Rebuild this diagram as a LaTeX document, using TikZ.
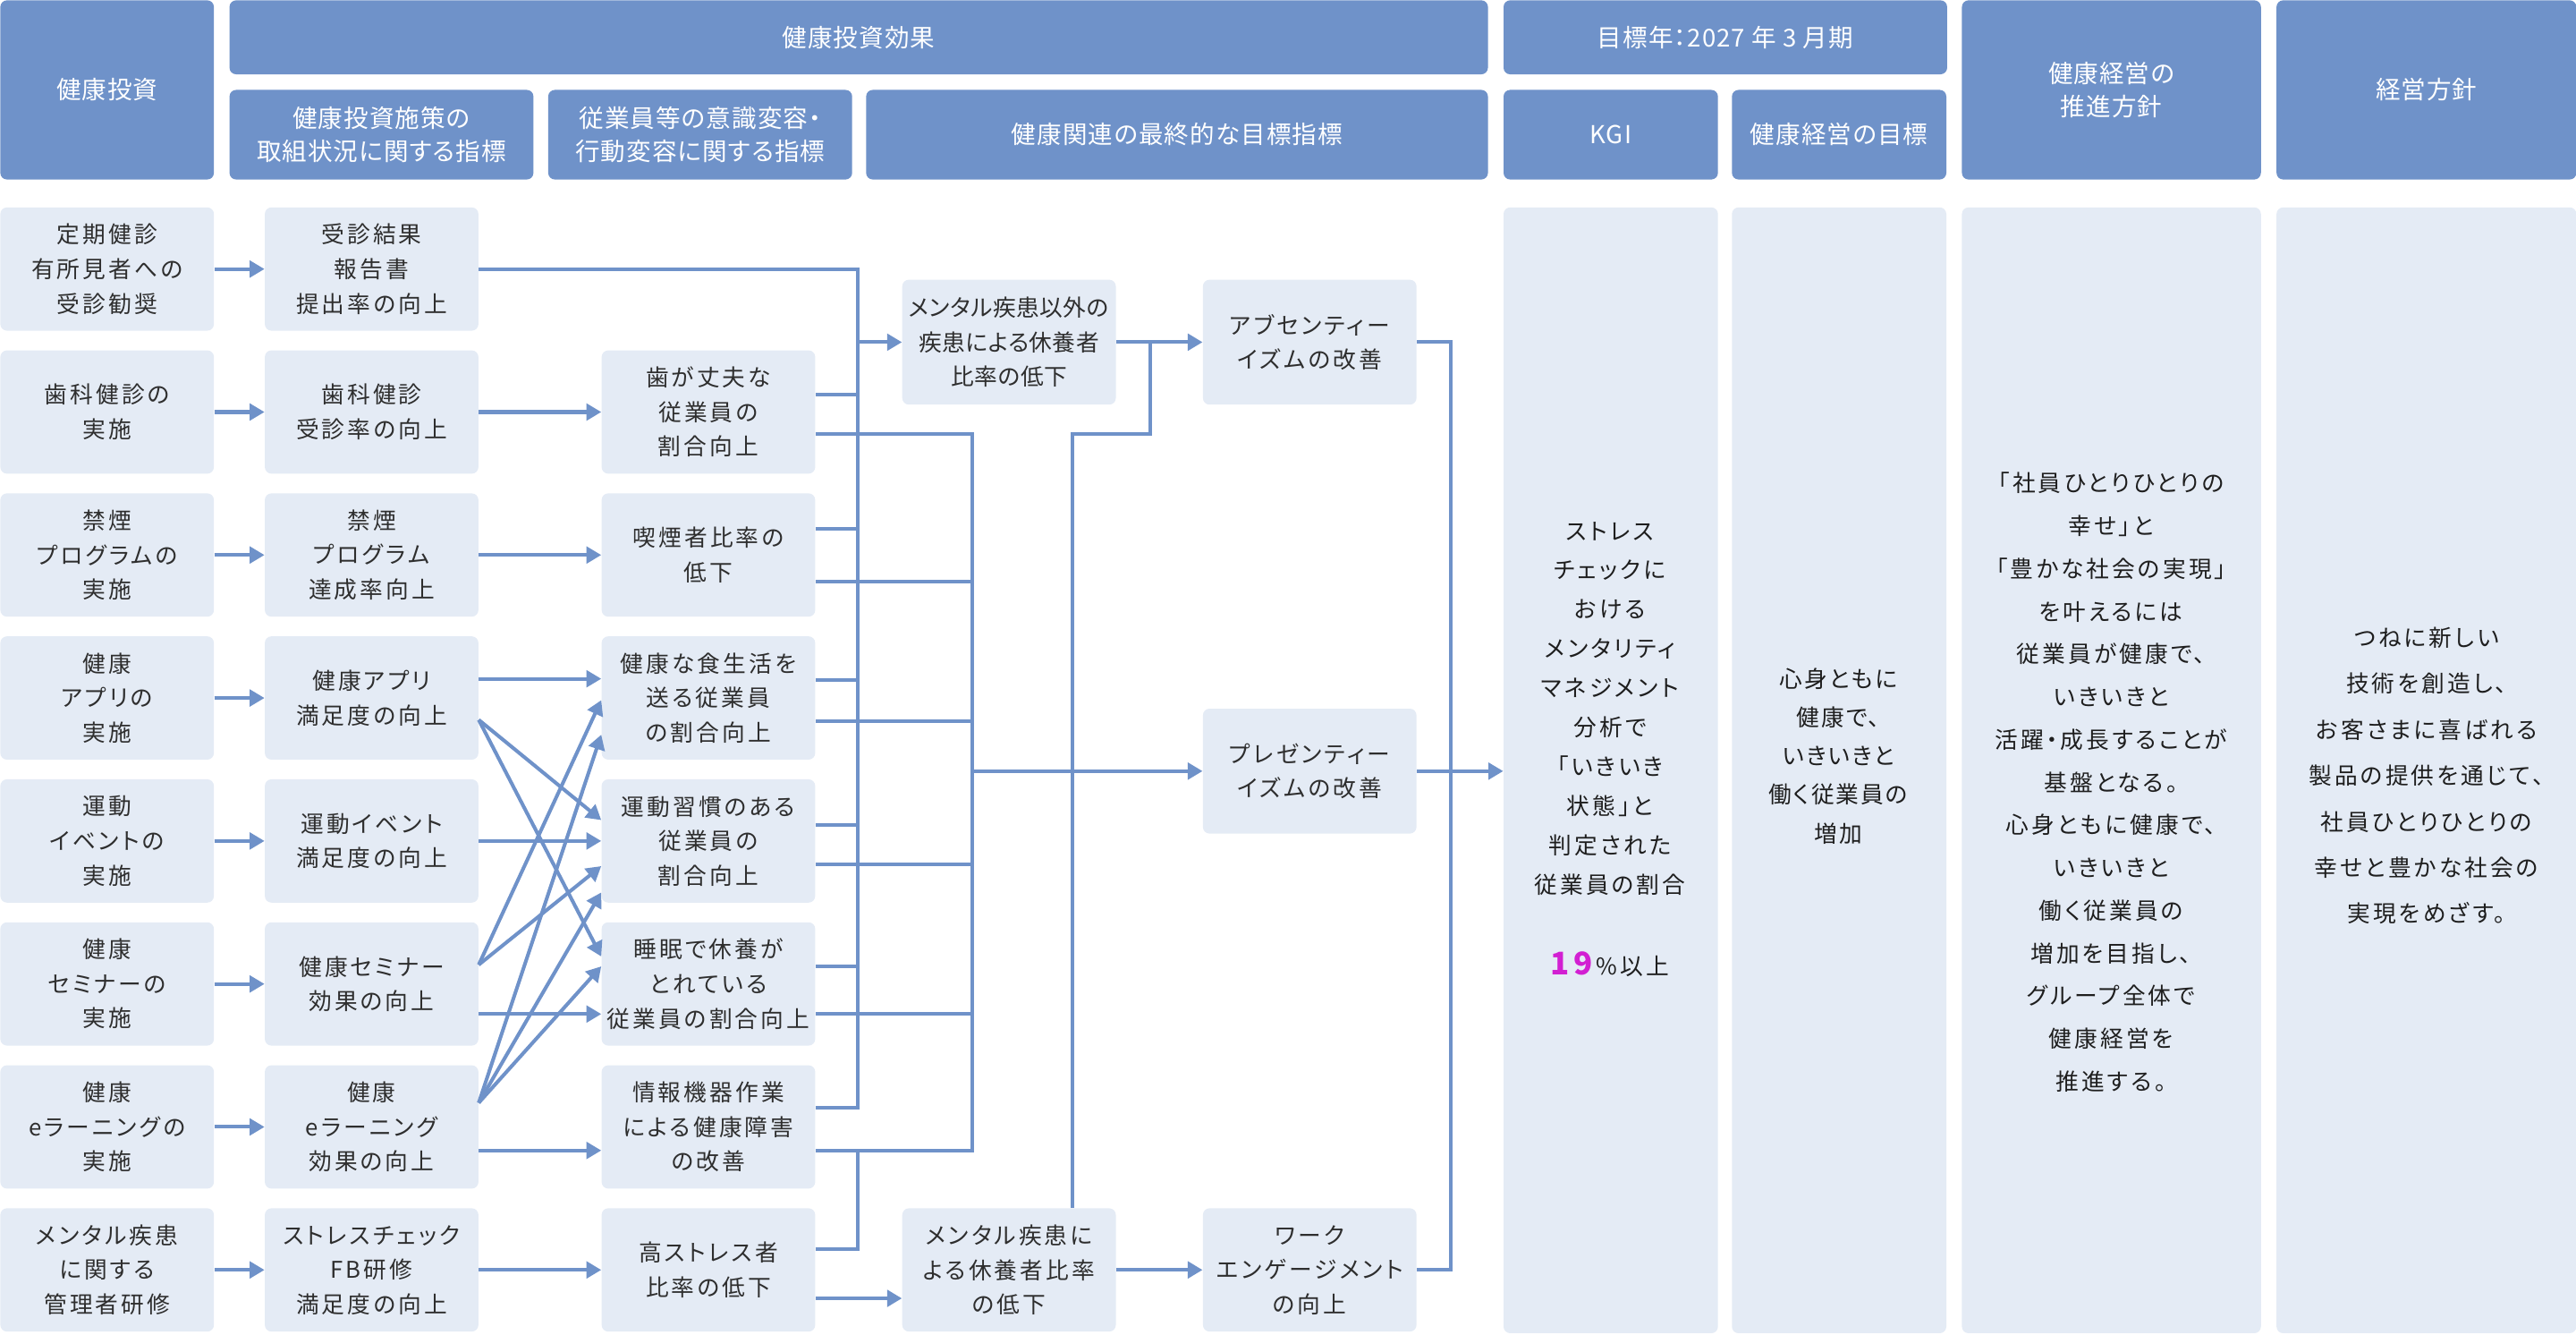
\documentclass[tikz,border=0pt]{standalone}
\usepackage{fontspec}
\setmainfont{Noto Sans CJK JP}[RawFeature=+palt]
\usetikzlibrary{arrows.meta}
\definecolor{hdblue}{HTML}{6F92C9}
\definecolor{bxblue}{HTML}{E4EBF5}
\definecolor{lnblue}{HTML}{6F92C9}
\definecolor{txtc}{HTML}{2E2E2E}
\definecolor{darktxt}{HTML}{1E1E1E}
\definecolor{mag}{HTML}{D21FD2}
\newcommand\fBody{\fontsize{14}{21}\selectfont\addfontfeature{LetterSpace=12}}
\newcommand\fTight{\fontsize{14}{21}\selectfont\addfontfeature{LetterSpace=2}}
\newcommand\fHead{\fontsize{15}{20}\selectfont\addfontfeature{LetterSpace=4}}
\newcommand\fKgi{\fontsize{14}{23.9}\selectfont\addfontfeature{LetterSpace=12}}
\newcommand\fGoal{\fontsize{14}{23.5}\selectfont\addfontfeature{LetterSpace=8}}
\newcommand\fPol{\fontsize{14}{26}\selectfont\addfontfeature{LetterSpace=12}}
\newcommand\fMgt{\fontsize{14}{28}\selectfont\addfontfeature{LetterSpace=12}}
\begin{document}
\begin{tikzpicture}[x=1pt,y=-1pt,
  hd/.style={fill=hdblue,rounded corners=4pt,text=white,font=\fHead,align=center,inner sep=0pt,anchor=north west},
  bx/.style={fill=bxblue,rounded corners=4pt,text=txtc,font=\fBody,align=center,inner sep=0pt,anchor=north west,minimum width=130pt,minimum height=75pt},
  tall/.style={fill=bxblue,rounded corners=4pt,inner sep=0pt,anchor=north west,minimum height=685pt},
  ln/.style={draw=lnblue,line width=2.2pt},
  ar/.style={ln,-{Triangle[length=9pt,width=10pt]}},
  txtn/.style={text=darktxt,align=center,inner sep=0pt}]
\useasboundingbox (0,0) rectangle (1568,812);
% headers
\node[hd,minimum width=130pt,minimum height=109pt] (h0) at (0,0) {健康投資};
\node[hd,minimum width=766pt,minimum height=45pt] (h1) at (139.5,0) {健康投資効果};
\node[hd,minimum width=270pt,minimum height=45pt] (h2) at (915,0) {目標年：2027 年 3 月期};
\node[hd,minimum width=182pt,minimum height=109pt] (h3) at (1194,0) {健康経営の\\推進方針};
\node[hd,minimum width=182.5pt,minimum height=109pt] (h4) at (1385.5,0) {経営方針};
\node[hd,minimum width=185pt,minimum height=54.5pt] (h5) at (139.5,54.5) {健康投資施策の\\取組状況に関する指標};
\node[hd,minimum width=185pt,minimum height=54.5pt] (h6) at (333.5,54.5) {従業員等の意識変容・\\行動変容に関する指標};
\node[hd,minimum width=378.5pt,minimum height=54.5pt] (h7) at (527,54.5) {健康関連の最終的な目標指標};
\node[hd,minimum width=130.5pt,minimum height=54.5pt] (h8) at (915,54.5) {KGI};
\node[hd,minimum width=130.5pt,minimum height=54.5pt] (h9) at (1054,54.5) {健康経営の目標};
% column 1
\node[bx] (a1) at (0,126) {定期健診\\有所見者への\\受診勧奨};
\node[bx] (a2) at (0,213) {歯科健診の\\実施};
\node[bx] (a3) at (0,300) {禁煙\\プログラムの\\実施};
\node[bx] (a4) at (0,387) {健康\\アプリの\\実施};
\node[bx] (a5) at (0,474) {運動\\イベントの\\実施};
\node[bx] (a6) at (0,561) {健康\\セミナーの\\実施};
\node[bx] (a7) at (0,648) {健康\\eラーニングの\\実施};
\node[bx] (a8) at (0,735) {メンタル疾患\\に関する\\管理者研修};
% column 2
\node[bx] (b1) at (161,126) {受診結果\\報告書\\提出率の向上};
\node[bx] (b2) at (161,213) {歯科健診\\受診率の向上};
\node[bx] (b3) at (161,300) {禁煙\\プログラム\\達成率向上};
\node[bx] (b4) at (161,387) {健康アプリ\\満足度の向上};
\node[bx] (b5) at (161,474) {運動イベント\\満足度の向上};
\node[bx] (b6) at (161,561) {健康セミナー\\効果の向上};
\node[bx] (b7) at (161,648) {健康\\eラーニング\\効果の向上};
\node[bx] (b8) at (161,735) {ストレスチェック\\FB研修\\満足度の向上};
% column 3
\node[bx] (c2) at (366,213) {歯が丈夫な\\従業員の\\割合向上};
\node[bx] (c3) at (366,300) {喫煙者比率の\\低下};
\node[bx] (c4) at (366,387) {健康な食生活を\\送る従業員\\の割合向上};
\node[bx] (c5) at (366,474) {運動習慣のある\\従業員の\\割合向上};
\node[bx] (c6) at (366,561) {睡眠で休養が\\とれている\\従業員の割合向上};
\node[bx] (c7) at (366,648) {情報機器作業\\による健康障害\\の改善};
\node[bx] (c8) at (366,735) {高ストレス者\\比率の低下};
% column 4 and 5
\node[bx,minimum height=76pt,font=\fTight] (d1) at (549,170) {メンタル疾患以外の\\疾患による休養者\\比率の低下};
\node[bx] (d2) at (549,735) {メンタル疾患に\\よる休養者比率\\の低下};
\node[bx,minimum height=76pt] (e1) at (732,170) {アブセンティー\\イズムの改善};
\node[bx,minimum height=76pt] (e2) at (732,431) {プレゼンティー\\イズムの改善};
\node[bx] (e3) at (732,735) {ワーク\\エンゲージメント\\の向上};
% tall columns
\node[tall,minimum width=130.5pt] (k) at (915,126) {};
\node[tall,minimum width=130.5pt] (g) at (1054,126) {};
\node[tall,minimum width=182pt] (p) at (1194,126) {};
\node[tall,minimum width=182.5pt] (m) at (1385.5,126) {};
\node[txtn,font=\fKgi] (kt) at (980,456) {ストレス\\チェックに\\おける\\メンタリティ\\マネジメント\\分析で\\「いきいき\\状態」と\\判定された\\従業員の割合\\[26pt]{\color{mag}\fontsize{19}{24}\selectfont\bfseries 19}\,\%以上};
\node[txtn,font=\fGoal] (gt) at (1119,460) {心身ともに\\健康で、\\いきいきと\\働く従業員の\\増加};
\node[txtn,font=\fPol] (pt) at (1285,476) {「社員ひとりひとりの\\幸せ」と\\「豊かな社会の実現」\\を叶えるには\\従業員が健康で、\\いきいきと\\活躍・成長することが\\基盤となる。\\心身ともに健康で、\\いきいきと\\働く従業員の\\増加を目指し、\\グループ全体で\\健康経営を\\推進する。};
\node[txtn,font=\fMgt] (mt) at (1477,472) {つねに新しい\\技術を創造し、\\お客さまに喜ばれる\\製品の提供を通じて、\\社員ひとりひとりの\\幸せと豊かな社会の\\実現をめざす。};
% bus coordinates
\coordinate (xA) at (522,0);
\coordinate (xB) at (592,0);
\coordinate (xC) at (653,0);
\coordinate (xE) at (700,0);
\coordinate (xD) at (883,0);
% col1 -> col2
\foreach \i in {1,...,8} {\draw[ar] (a\i.east) -- (b\i.west);}
% col2 -> col3
\draw[ar] (b2.east) -- (c2.west);
\draw[ar] (b3.east) -- (c3.west);
\draw[ar] (b4.east |- 0,413) -- (c4.west |- 0,413);
\draw[ar] (b5.east) -- (c5.west);
\draw[ar] (b6.east |- 0,617) -- (c6.west |- 0,617);
\draw[ar] (b7.east |- 0,700) -- (c7.west |- 0,700);
\draw[ar] (b8.east) -- (c8.west);
\draw[ar] (b4.east |- 0,438) -- (c5.west |- 0,499);
\draw[ar] (b4.east |- 0,438) -- (c6.west |- 0,582);
\draw[ar] (b6.east |- 0,587) -- (c4.west |- 0,426);
\draw[ar] (b6.east |- 0,587) -- (c5.west |- 0,527);
\draw[ar] (b7.east |- 0,671) -- (c4.west |- 0,447);
\draw[ar] (b7.east |- 0,671) -- (c5.west |- 0,543);
\draw[ar] (b7.east |- 0,671) -- (c6.west |- 0,588);
% bus A
\draw[ln] (b1.east) -- (xA |- b1.east) -- (xA |- 0,674) -- (c7.east |- 0,674);
\foreach \n/\y in {c2/240,c3/322,c4/414,c5/502,c6/588} {\draw[ln] (\n.east |- 0,\y) -- (xA |- 0,\y);}
\draw[ar] (xA |- d1.west) -- (d1.west);
% bus B
\draw[ln] (c2.east |- 0,264) -- (xB |- 0,264) -- (xB |- 0,700) -- (c7.east |- 0,700);
\foreach \n/\y in {c3/354,c4/439,c5/526,c6/617} {\draw[ln] (\n.east |- 0,\y) -- (xB |- 0,\y);}
\draw[ln] (c8.east |- 0,760) -- (xA |- 0,760) -- (xA |- 0,700);
\draw[ar] (c8.east |- 0,790) -- (d2.west |- 0,790);
\draw[ar] (xB |- e2.west) -- (e2.west);
% bus C
\draw[ln] (xC |- d2.north) -- (xC |- 0,264) -- (xE |- 0,264) -- (xE |- d1.east);
\draw[ar] (d1.east) -- (e1.west);
\draw[ar] (d2.east) -- (e3.west);
% bus D
\draw[ln] (e1.east) -- (xD |- e1.east) -- (xD |- e3.east) -- (e3.east);
\draw[ar] (e2.east) -- (k.west |- e2.east);
\end{tikzpicture}
\end{document}
